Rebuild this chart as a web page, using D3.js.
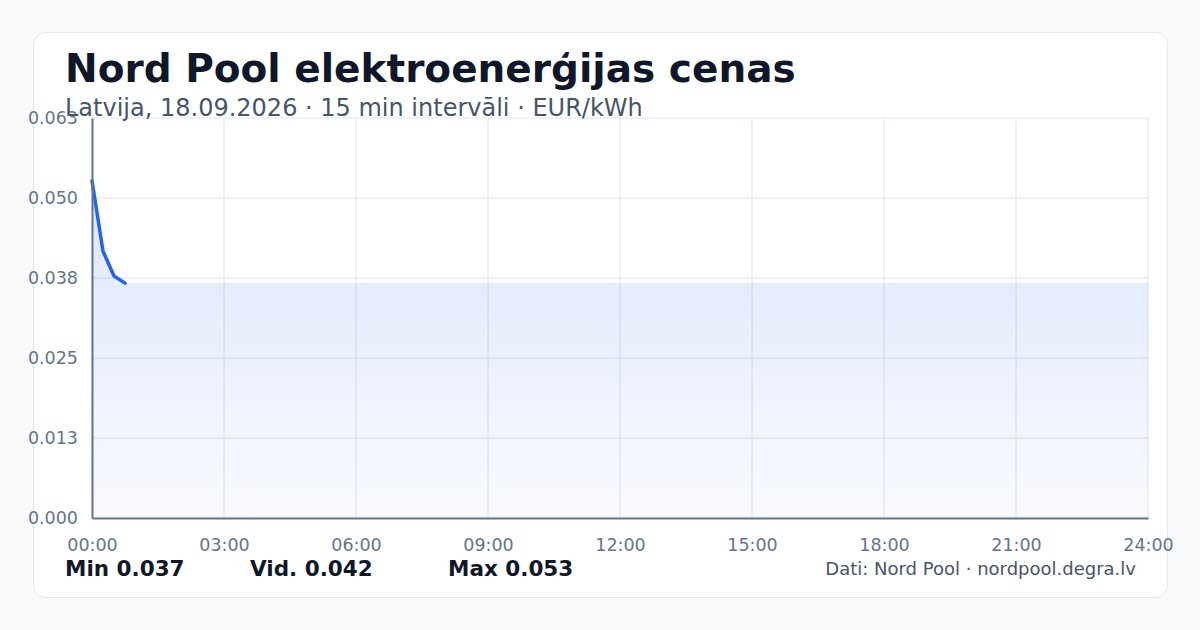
<!DOCTYPE html>
<html>
<head>
<meta charset="utf-8">
<script src="https://cdn.jsdelivr.net/npm/d3@7"></script>
<style>
  html, body { margin: 0; padding: 0; background: #f8fafc; }
  svg { display: block; font-family: "DejaVu Sans", sans-serif; }
</style>
</head>
<body>
<svg id="chart" width="1200" height="630"></svg>
<script>
// ---- data ----
const title = "Nord Pool elektroenerģijas cenas";
const subtitle = "Latvija, 18.09.2026 · 15 min intervāli · EUR/kWh";
const times = ["00:00", "00:15", "00:30", "00:45"];
const prices = [0.0527, 0.0417, 0.0378, 0.0367];
const yTicks = [0, 0.0125, 0.025, 0.0375, 0.05, 0.0625];
const xTickHours = [0, 3, 6, 9, 12, 15, 18, 21, 24];
const statLabels = ["Min 0.037", "Vid. 0.042", "Max 0.053"];
const source = "Dati: Nord Pool · nordpool.degra.lv";

// ---- layout ----
const svg = d3.select("#chart");
const W = 1200, H = 630;
const m = { left: 92, right: 1148, top: 118, bottom: 518 };

svg.append("rect").attr("width", W).attr("height", H).attr("fill", "#f8fafc");
svg.append("rect").attr("x", 33.5).attr("y", 32.5).attr("width", 1134).attr("height", 565)
  .attr("rx", 12).attr("fill", "#ffffff").attr("stroke", "#e2e8f0").attr("stroke-width", 1);

const toMin = t => { const [h, mm] = t.split(":").map(Number); return h * 60 + mm; };
const data = times.map((t, i) => ({ m: toMin(t), v: prices[i] }));

const x = d3.scaleLinear().domain([0, 1440]).range([m.left, m.right]);
const y = d3.scaleLinear().domain([0, 0.0625]).range([m.bottom, m.top]);

// gradient
const defs = svg.append("defs");
const grad = defs.append("linearGradient").attr("id", "areaGrad")
  .attr("x1", 0).attr("y1", 0).attr("x2", 0).attr("y2", 1);
grad.append("stop").attr("offset", "0%").attr("stop-color", "#2563eb").attr("stop-opacity", 0.16);
grad.append("stop").attr("offset", "100%").attr("stop-color", "#2563eb").attr("stop-opacity", 0.03);

// grid
const g = svg.append("g");
g.selectAll("line.hg").data(yTicks).join("line")
  .attr("x1", m.left).attr("x2", m.right)
  .attr("y1", d => y(d)).attr("y2", d => y(d))
  .attr("stroke", "#dde4f0").attr("stroke-width", 1);
g.selectAll("line.vg").data(xTickHours).join("line")
  .attr("x1", d => x(d * 60)).attr("x2", d => x(d * 60))
  .attr("y1", m.top).attr("y2", m.bottom)
  .attr("stroke", "#dde4f0").attr("stroke-width", 1);

// area (extends last value to end of day)
const areaData = data.concat([{ m: 1440, v: prices[prices.length - 1] }]);
svg.append("path").datum(areaData)
  .attr("fill", "url(#areaGrad)")
  .attr("d", d3.area().x(d => x(d.m)).y0(y(0)).y1(d => y(d.v)));

// line
svg.append("path").datum(data)
  .attr("fill", "none").attr("stroke", "#2563eb").attr("stroke-width", 3.5)
  .attr("stroke-linejoin", "round").attr("stroke-linecap", "round")
  .attr("d", d3.line().x(d => x(d.m)).y(d => y(d.v)));

// axes
const fmtY = v => (Math.round(v * 1000) / 1000).toFixed(3);
const yAxis = svg.append("g").attr("transform", `translate(${m.left},0)`)
  .call(d3.axisLeft(y).tickValues(yTicks).tickFormat(fmtY).tickSize(0).tickPadding(14));
const xAxis = svg.append("g").attr("transform", `translate(0,${m.bottom})`)
  .call(d3.axisBottom(x).tickValues(xTickHours.map(h => h * 60))
    .tickFormat(v => String(v / 60).padStart(2, "0") + ":00").tickSize(0).tickPadding(21));
[yAxis, xAxis].forEach(a => {
  a.select(".domain").attr("stroke", "#64748b").attr("stroke-width", 2);
  a.selectAll("text").attr("fill", "#64748b").attr("font-size", 17.5)
    .attr("font-family", "DejaVu Sans, sans-serif");
});

// titles
svg.append("text").attr("x", 65).attr("y", 82).text(title)
  .attr("font-size", 39).attr("font-weight", "bold").attr("fill", "#0f172a");
svg.append("text").attr("x", 65).attr("y", 116).text(subtitle)
  .attr("font-size", 24).attr("fill", "#475569");

// stats
const statX = [65, 250, 448];
svg.selectAll("text.stat").data(statLabels).join("text")
  .attr("x", (d, i) => statX[i]).attr("y", 576).text(d => d)
  .attr("font-size", 21.5).attr("font-weight", "bold").attr("fill", "#0f172a");

svg.append("text").attr("x", 1136).attr("y", 575).attr("text-anchor", "end").text(source)
  .attr("font-size", 18).attr("fill", "#475569");
</script>
</body>
</html>
